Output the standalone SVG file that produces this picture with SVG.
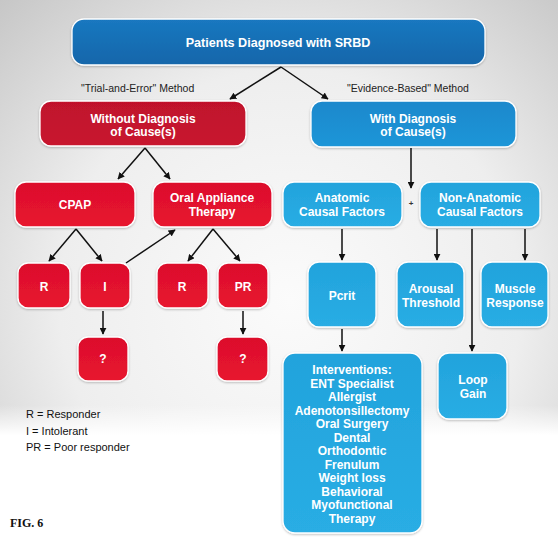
<svg xmlns="http://www.w3.org/2000/svg" width="558" height="540" viewBox="0 0 558 540">
<defs>
<radialGradient id="bg" cx="290" cy="300" r="420" gradientUnits="userSpaceOnUse">
<stop offset="0" stop-color="#fbfbfb"/>
<stop offset="0.55" stop-color="#eeeeee"/>
<stop offset="1" stop-color="#c6c6c6"/>
</radialGradient>
<linearGradient id="fade" x1="0" y1="0" x2="0" y2="1">
<stop offset="0" stop-color="#ffffff" stop-opacity="0"/>
<stop offset="1" stop-color="#ffffff" stop-opacity="1"/>
</linearGradient>
<linearGradient id="gDark" x1="0" y1="0" x2="0" y2="1">
<stop offset="0" stop-color="#1a78c0"/>
<stop offset="1" stop-color="#1266aa"/>
</linearGradient>
<linearGradient id="gMid" x1="0" y1="0" x2="0" y2="1">
<stop offset="0" stop-color="#1c88cc"/>
<stop offset="1" stop-color="#1e96d8"/>
</linearGradient>
<linearGradient id="gLight" x1="0" y1="0" x2="0" y2="1">
<stop offset="0" stop-color="#22a3dc"/>
<stop offset="1" stop-color="#29ade4"/>
</linearGradient>
<linearGradient id="gDred" x1="0" y1="0" x2="0" y2="1">
<stop offset="0" stop-color="#c0112c"/>
<stop offset="1" stop-color="#c8162f"/>
</linearGradient>
<linearGradient id="gRed" x1="0" y1="0" x2="0" y2="1">
<stop offset="0" stop-color="#dc0f2c"/>
<stop offset="1" stop-color="#e8142f"/>
</linearGradient>
<filter id="sh" x="-10%" y="-10%" width="120%" height="130%">
<feDropShadow dx="0" dy="1" stdDeviation="1.2" flood-color="#000" flood-opacity="0.25"/>
</filter>
<marker id="ah" viewBox="0 0 10 10" refX="9" refY="5" markerWidth="7" markerHeight="7" markerUnits="userSpaceOnUse" orient="auto">
<path d="M0,0 L10,5 L0,10 z" fill="#111"/>
</marker>
</defs>
<style>
.box{stroke:#ffffff;stroke-width:1.3;filter:url(#sh)}
.dark{fill:url(#gDark)}
.mid{fill:url(#gMid)}
.light{fill:url(#gLight)}
.dred{fill:url(#gDred)}
.red{fill:url(#gRed)}
.t{font-family:"Liberation Sans",Arial,sans-serif;font-weight:bold;font-size:12px;fill:#ffffff;text-anchor:middle}
.lbl{font-family:"Liberation Sans",Arial,sans-serif;font-size:10.5px;fill:#222}
.leg{font-family:"Liberation Sans",Arial,sans-serif;font-size:11px;fill:#111}
.fig{font-family:"Liberation Serif","Times New Roman",serif;font-weight:bold;font-size:12px;fill:#111}
.c line{stroke:#111;stroke-width:1.5;marker-end:url(#ah)}
</style>
<rect x="0" y="0" width="558" height="540" fill="url(#bg)"/>
<rect x="0" y="405" width="558" height="30" fill="url(#fade)"/>
<rect x="0" y="435" width="558" height="105" fill="#ffffff"/>

<text class="lbl" x="81" y="92">"Trial-and-Error" Method</text>
<text class="lbl" x="347" y="92">"Evidence-Based" Method</text>

<g class="c" id="connectors">
<line x1="281" y1="67" x2="230" y2="99"/>
<line x1="281" y1="67" x2="328" y2="99"/>
<line x1="145" y1="148" x2="118" y2="179"/>
<line x1="145" y1="148" x2="170" y2="179"/>
<line x1="76" y1="229" x2="49" y2="261"/>
<line x1="76" y1="229" x2="102" y2="261"/>
<line x1="126" y1="263" x2="175" y2="230"/>
<line x1="213" y1="229" x2="188" y2="261"/>
<line x1="213" y1="229" x2="240" y2="261"/>
<line x1="103" y1="311" x2="103" y2="334"/>
<line x1="243" y1="311" x2="243" y2="334"/>
<line x1="411" y1="148" x2="411" y2="188"/>
<line x1="342" y1="229" x2="342" y2="260"/>
<line x1="437" y1="229" x2="437" y2="260"/>
<line x1="525" y1="229" x2="525" y2="260"/>
<line x1="472" y1="229" x2="472" y2="351"/>
<line x1="342" y1="329" x2="342" y2="351"/>
</g>
<text x="411" y="206" font-family="Liberation Sans,Arial,sans-serif" font-size="8" font-weight="bold" fill="#333" text-anchor="middle">+</text>

<g id="n-top"><rect class="box dark" x="72" y="19" width="413" height="46" rx="12"/><text class="t" x="278" y="47" style="font-size:12.6px">Patients Diagnosed with SRBD</text></g>
<g id="n-without"><rect class="box dred" x="40" y="101" width="206" height="45" rx="11"/><text class="t" x="143" y="123">Without Diagnosis</text><text class="t" x="143" y="136">of Cause(s)</text></g>
<g id="n-with"><rect class="box mid" x="311" y="101" width="205" height="46" rx="11"/><text class="t" x="413" y="123">With Diagnosis</text><text class="t" x="413" y="136">of Cause(s)</text></g>
<g id="n-cpap"><rect class="box red" x="15" y="182" width="120" height="45" rx="11"/><text class="t" x="75" y="209">CPAP</text></g>
<g id="n-oral"><rect class="box red" x="153" y="182" width="119" height="45" rx="11"/><text class="t" x="212" y="202">Oral Appliance</text><text class="t" x="212" y="216">Therapy</text></g>
<g id="n-anat"><rect class="box light" x="283" y="182" width="119" height="45" rx="11"/><text class="t" x="342" y="202">Anatomic</text><text class="t" x="342" y="216">Causal Factors</text></g>
<g id="n-nonanat"><rect class="box light" x="420" y="182" width="120" height="45" rx="11"/><text class="t" x="480" y="202">Non-Anatomic</text><text class="t" x="480" y="216">Causal Factors</text></g>
<g id="n-r1"><rect class="box red" x="18" y="263" width="52" height="45" rx="10"/><text class="t" x="44" y="291">R</text></g>
<g id="n-i"><rect class="box red" x="80" y="263" width="50" height="45" rx="10"/><text class="t" x="105" y="291">I</text></g>
<g id="n-r2"><rect class="box red" x="157" y="263" width="51" height="45" rx="10"/><text class="t" x="182" y="291">R</text></g>
<g id="n-pr"><rect class="box red" x="218" y="263" width="50" height="45" rx="10"/><text class="t" x="243" y="291">PR</text></g>
<g id="n-q1"><rect class="box red" x="78" y="337" width="50" height="44" rx="10"/><text class="t" x="103" y="363">?</text></g>
<g id="n-q2"><rect class="box red" x="217" y="337" width="51" height="44" rx="10"/><text class="t" x="243" y="363">?</text></g>
<g id="n-pcrit"><rect class="box light" x="308" y="262" width="68" height="65" rx="11"/><text class="t" x="342" y="300">Pcrit</text></g>
<g id="n-arousal"><rect class="box light" x="397" y="262" width="67" height="65" rx="11"/><text class="t" x="431" y="293">Arousal</text><text class="t" x="431" y="307">Threshold</text></g>
<g id="n-muscle"><rect class="box light" x="481" y="262" width="67" height="65" rx="11"/><text class="t" x="515" y="293">Muscle</text><text class="t" x="515" y="307">Response</text></g>
<g id="n-interv"><rect class="box light" x="283" y="353" width="139" height="180" rx="12"/>
<text class="t" x="352" y="374">Interventions:</text>
<text class="t" x="352" y="387.5">ENT Specialist</text>
<text class="t" x="352" y="401">Allergist</text>
<text class="t" x="352" y="414.5">Adenotonsillectomy</text>
<text class="t" x="352" y="428">Oral Surgery</text>
<text class="t" x="352" y="441.5">Dental</text>
<text class="t" x="352" y="455">Orthodontic</text>
<text class="t" x="352" y="468.5">Frenulum</text>
<text class="t" x="352" y="482">Weight loss</text>
<text class="t" x="352" y="495.5">Behavioral</text>
<text class="t" x="352" y="509">Myofunctional</text>
<text class="t" x="352" y="522.5">Therapy</text>
</g>
<g id="n-loop"><rect class="box light" x="438" y="353" width="69" height="66" rx="11"/><text class="t" x="473" y="384">Loop</text><text class="t" x="473" y="398">Gain</text></g>

<text class="leg" x="26" y="418">R = Responder</text>
<text class="leg" x="26" y="435">I = Intolerant</text>
<text class="leg" x="26" y="451">PR = Poor responder</text>
<text class="fig" x="10" y="527">FIG. 6</text>
</svg>
